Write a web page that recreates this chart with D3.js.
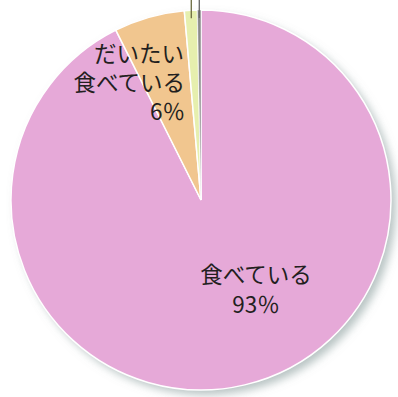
<!DOCTYPE html>
<html>
<head>
<meta charset="utf-8">
<script src="https://cdn.jsdelivr.net/npm/d3@7"></script>
<style>
  body { margin: 0; background: #fff; }
  text { font-family: "Noto Sans CJK JP", "Noto Sans", sans-serif; fill: #231f20; }
</style>
</head>
<body>
<div id="chart"></div>
<script>
// slices clockwise from 12 o'clock
var categories = ["食べている", "だいたい食べている", "あまり食べていない", "食べていない"];
var values = [92.6, 6.0, 1.1, 0.3];
var labels = ["93％", "6％", "", ""];
var colors = ["#e6a9d8", "#f1c68f", "#e6efae", "#8a8a8a"];

var W = 398, H = 397;
var cx = 201, cy = 200, R = 190;

var svg = d3.select("#chart").append("svg")
    .attr("width", W).attr("height", H);

var defs = svg.append("defs");
var f = defs.append("filter").attr("id", "shadow")
    .attr("x", "-10%").attr("y", "-10%").attr("width", "125%").attr("height", "125%");
f.append("feGaussianBlur").attr("in", "SourceAlpha").attr("stdDeviation", 4);
f.append("feOffset").attr("dx", 5).attr("dy", 5).attr("result", "b");
f.append("feFlood").attr("flood-color", "#7f9493").attr("flood-opacity", 0.55);
f.append("feComposite").attr("in2", "b").attr("operator", "in");
var m = f.append("feMerge");
m.append("feMergeNode");
m.append("feMergeNode").attr("in", "SourceGraphic");

var data = categories.map(function (c, i) { return { name: c, v: values[i], label: labels[i] }; });

var pie = d3.pie().sort(null).value(function (d) { return d.v; });
var arc = d3.arc().innerRadius(0).outerRadius(R);
var arcs = pie(data);

var g = svg.append("g").attr("transform", "translate(" + cx + "," + cy + ")");

g.append("circle").attr("r", R).attr("fill", colors[0]).attr("filter", "url(#shadow)");

g.selectAll("path")
    .data(arcs)
    .enter().append("path")
    .attr("d", arc)
    .attr("fill", function (d, i) { return colors[i]; })
    .attr("stroke", "#fff")
    .attr("stroke-width", function (d, i) { return i == 3 ? 0.5 : 1.5; });

// leader lines to the small slices (labels are cut off above)
var leaders = [2, 3];
g.selectAll("line.leader")
    .data(leaders)
    .enter().append("line")
    .attr("class", "leader")
    .each(function (k) {
        var a = (arcs[k].startAngle + arcs[k].endAngle) / 2;
        var x = (R - 8) * Math.sin(a);
        d3.select(this)
            .attr("x1", x).attr("x2", x)
            .attr("y1", -cy).attr("y2", -(R - 8) * Math.cos(a));
    })
    .attr("stroke", function (k) { return k == 2 ? "#6b6b40" : "#666"; })
    .attr("stroke-width", 1.3);

// labels
var fs = 22.5;
function label(txt, x, y, anchor) {
    svg.append("text").attr("text-anchor", anchor).attr("font-size", fs)
        .attr("x", x).attr("y", y).text(txt);
}
label("だいたい", 184, 62, "end");
label(categories[0], 185, 91, "end");
label(labels[1], 185, 120, "end");

label(categories[0], 256, 283, "middle");
label(labels[0], 256, 313, "middle");
</script>
</body>
</html>
